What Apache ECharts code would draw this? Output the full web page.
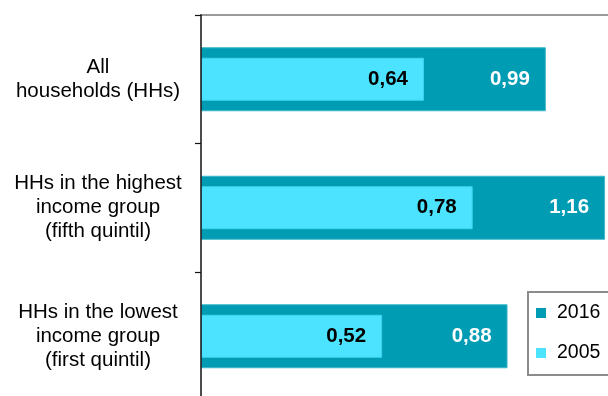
<!DOCTYPE html>
<html>
<head>
<meta charset="utf-8">
<script src="https://cdn.jsdelivr.net/npm/echarts@6/dist/echarts.min.js"></script>
<style>
  html, body { margin: 0; padding: 0; background: #fff; overflow: hidden; width: 608px; height: 396px; }
  /* the plot runs past the right and bottom edges of the frame */
  #chart { width: 632px; height: 404px; }
</style>
</head>
<body>
<div id="chart"></div>
<script>
// Household groups, top to bottom
const categories = [
  'All\nhouseholds (HHs)',
  'HHs in the highest\nincome group\n(fifth quintil)',
  'HHs in the lowest\nincome group\n(first quintil)'
];
const seriesNames = ['2016', '2005'];
const values2016 = [0.99, 1.16, 0.88];
const values2005 = [0.64, 0.78, 0.52];

const FONT = '"Liberation Sans", Arial, Helvetica, sans-serif';
const fmtComma = p => p.value.toFixed(2).replace('.', ',');

const chart = echarts.init(document.getElementById('chart'), null, { renderer: 'canvas' });

chart.setOption({
  animation: false,
  backgroundColor: '#ffffff',
  grid: { left: 201, top: 15, width: 418, height: 385.5, containLabel: false },
  xAxis: {
    type: 'value',
    position: 'top',
    min: 0,
    max: 1.2,
    axisLine: { show: true, lineStyle: { color: '#9a9a9a', width: 2 } },
    axisTick: { show: false },
    axisLabel: { show: false },
    splitLine: { show: false }
  },
  yAxis: [
    {
      type: 'category',
      inverse: true,
      data: categories,
      axisLine: { show: true, lineStyle: { color: '#111', width: 1.5 } },
      axisTick: { show: true, length: 6, lineStyle: { color: '#111', width: 1.2 } },
      axisLabel: {
        align: 'center',
        margin: 103,
        color: '#000',
        fontFamily: FONT,
        fontSize: 20.5,
        lineHeight: 24
      },
      z: 5
    },
    {
      type: 'category',
      inverse: true,
      data: categories,
      show: false
    }
  ],
  legend: {
    orient: 'vertical',
    left: 528,
    top: 292,
    data: seriesNames,
    icon: 'rect',
    itemWidth: 10,
    itemHeight: 10,
    itemGap: 20,
    padding: [11, 26, 12, 8],
    borderColor: '#8c8c8c',
    borderWidth: 2,
    backgroundColor: '#fff',
    itemStyle: { borderWidth: 0 },
    textStyle: {
      color: '#000',
      fontFamily: FONT,
      fontSize: 19.5,
      lineHeight: 20,
      padding: [0, 0, 0, 6]
    }
  },
  series: [
    {
      name: '2016',
      type: 'bar',
      yAxisIndex: 0,
      data: values2016,
      barWidth: 64,
      itemStyle: { color: '#009CB4', borderColor: '#3bb7c9', borderWidth: 1 },
      label: {
        show: true,
        position: 'insideRight',
        distance: 16,
        color: '#fff',
        fontFamily: FONT,
        fontWeight: 'bold',
        fontSize: 20.5,
        formatter: fmtComma
      },
      z: 2
    },
    {
      name: '2005',
      type: 'bar',
      yAxisIndex: 1,
      data: values2005,
      barWidth: 43,
      itemStyle: { color: '#4BE3FF', borderColor: '#3fd2ec', borderWidth: 1 },
      label: {
        show: true,
        position: 'insideRight',
        distance: 16,
        color: '#000',
        fontFamily: FONT,
        fontWeight: 'bold',
        fontSize: 20.5,
        formatter: fmtComma
      },
      z: 3
    }
  ]
});
</script>
</body>
</html>
